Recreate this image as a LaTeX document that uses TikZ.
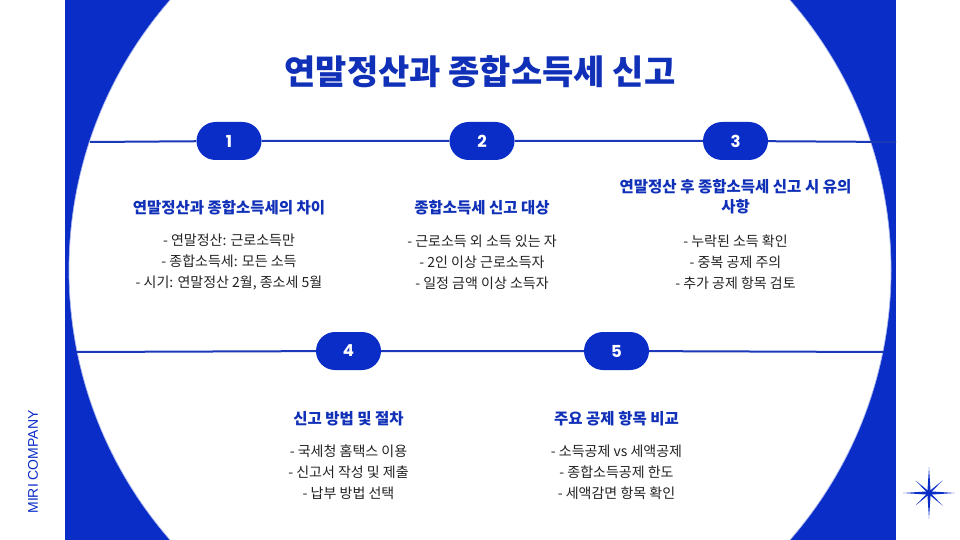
\documentclass[tikz,border=0pt]{standalone}
\usepackage{fontspec}
\setmainfont{Noto Sans CJK KR}
\newfontfamily\latinf{Liberation Sans}
\newfontfamily\numf{Poppins}
\definecolor{mblue}{HTML}{0A2DC8}
\definecolor{tblue}{HTML}{1030B8}
\definecolor{lblue}{HTML}{1A38B8}
\definecolor{bodyc}{HTML}{222222}
\tikzset{
  pill/.style={fill=mblue, rounded corners=19pt, minimum width=65pt, minimum height=38pt,
    inner sep=0pt, text=white, font=\numf\bfseries\fontsize{16.5}{16.5}\selectfont},
  rowline/.style={draw=lblue, line width=2pt},
  heading/.style={text=tblue, align=center, inner sep=0pt,
    font=\bfseries\fontsize{15.5}{20}\selectfont},
  bodytext/.style={text=bodyc, align=center, inner sep=0pt,
    font=\fontsize{14}{21.2}\selectfont},
  titletext/.style={text=tblue, inner sep=0pt, font=\bfseries\fontsize{34}{40}\selectfont},
}
\begin{document}
\begin{tikzpicture}[x=1pt,y=-1pt]
\useasboundingbox (0,0) rectangle (960,540);
\fill[white] (0,0) rectangle (960,540);
\fill[mblue] (65,0) rectangle (896,540);
\begin{scope}
  \clip (65,0) rectangle (896,540);
  \fill[white] (480,270) circle[radius=411pt];
  \draw[mblue!35!white, line width=0.7pt] (480,270) circle[radius=411pt];
\end{scope}

% title
\node[titletext] (title) at (480,72) {연말정산과 종합소득세 신고};

% row 1
\coordinate (r1a) at (90,142);
\coordinate (r1b) at (896,142);
\node[pill] (p1) at (229,141) {1};
\node[pill] (p2) at (482,141) {2};
\node[pill] (p3) at (735.5,141) {3};
\draw[rowline] (r1a) -- (p1) -- (p2) -- (p3) -- (r1b);

\node[heading] (h1) at (229,208) {연말정산과 종합소득세의 차이};
\node[heading] (h2) at (482,208) {종합소득세 신고 대상};
\node[heading] (h3) at (735.5,197) {연말정산 후 종합소득세 신고 시 유의\\사항};

\node[bodytext] (b1) at (229,262) {- 연말정산: 근로소득만\\- 종합소득세: 모든 소득\\- 시기: 연말정산 2월, 종소세 5월};
\node[bodytext] (b2) at (482,262) {- 근로소득 외 소득 있는 자\\- 2인 이상 근로소득자\\- 일정 금액 이상 소득자};
\node[bodytext] (b3) at (735.5,262) {- 누락된 소득 확인\\- 중복 공제 주의\\- 추가 공제 항목 검토};

% row 2
\coordinate (r2a) at (76,352);
\coordinate (r2b) at (884,352);
\node[pill] (p4) at (348.5,351) {4};
\node[pill] (p5) at (616.5,351) {5};
\draw[rowline] (r2a) -- (p4) -- (p5) -- (r2b);

\node[heading] (h4) at (348.5,419) {신고 방법 및 절차};
\node[heading] (h5) at (616.5,419) {주요 공제 항목 비교};

\node[bodytext] (b4) at (348.5,472) {- 국세청 홈택스 이용\\- 신고서 작성 및 제출\\- 납부 방법 선택};
\node[bodytext] (b5) at (616.5,472) {- 소득공제 vs 세액공제\\- 종합소득공제 한도\\- 세액감면 항목 확인};

% side label
\node[text=mblue, rotate=90, inner sep=0pt, font=\latinf\fontsize{14}{14}\selectfont] (brand) at (33,462) {MIRI COMPANY};

% star
\fill[mblue] (929,467) -- (930.6,491.4) -- (955,493) -- (930.6,494.6) -- (929,519) -- (927.4,494.6) -- (903,493) -- (927.4,491.4) -- cycle;
\fill[mblue] (915.5,480.5) -- (929.8,492.2) -- (942.5,505.5) -- (928.2,493.8) -- cycle;
\fill[mblue] (942.5,480.5) -- (929.8,493.8) -- (915.5,505.5) -- (928.2,492.2) -- cycle;
\fill[mblue] (929,493) circle[radius=3pt];
\end{tikzpicture}
\end{document}
